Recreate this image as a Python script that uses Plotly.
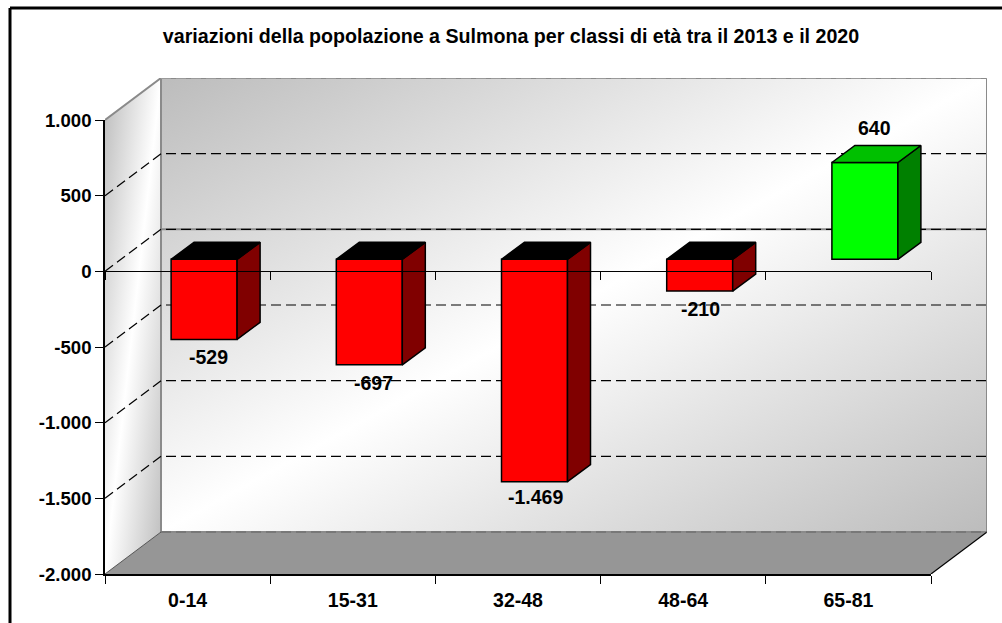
import base64
import plotly.graph_objects as go

# data
categories = ["0-14", "15-31", "32-48", "48-64", "65-81"]
values = [-529, -697, -1469, -210, 640]
value_labels = ["-529", "-697", "-1.469", "-210", "640"]
y_ticks = [1000, 500, 0, -500, -1000, -1500, -2000]
y_tick_labels = ["1.000", "500", "0", "-500", "-1.000", "-1.500", "-2.000"]

# style / geometry
W, H = 1002, 623
L, R, T, B = 105, 931, 120, 574
YMIN, YMAX = -2000, 1000
NCAT = len(categories)
PX_X = (R - L) / NCAT
PX_Y = (B - T) / (YMAX - YMIN)
DX = 56.0 / PX_X        # depth of the chart box
DY = 42.0 / PX_Y
BAR_SHIFT = 16.5 / PX_X  # front face of bars, inside the box
BAR_WIDTH = 66.0 / PX_X
BAR_LIFT = 12.0 / PX_Y
BAR_DX = 23.0 / PX_X     # depth of bars
BAR_DY = 17.0 / PX_Y
FONT = "Liberation Sans, Arial, sans-serif"
FS = 19.5
RED, RED_SIDE, RED_TOP = "#ff0000", "#800000", "#000000"
GRN, GRN_SIDE, GRN_TOP = "#00ff00", "#008000", "#00c000"
LABEL_SHIFT = [(4, 18), (4, 18), (1, 15), (1, 18), (10, -34)]
R_BOX = R + DX * PX_X
T_BOX = T - DY * PX_Y
FX = (R - L) / (R_BOX - L)   # fraction of the box used by the front axes
FY = (B - T) / (B - T_BOX)

# gradient walls, drawn as an svg image behind the axes
box_w = (NCAT + DX) * PX_X
box_h = (YMAX - YMIN + DY) * PX_Y
dxp, dyp = DX * PX_X, DY * PX_Y
h_front = (YMAX - YMIN) * PX_Y
svg = f'''<svg xmlns="http://www.w3.org/2000/svg" viewBox="0 0 {box_w} {box_h}" width="{box_w}" height="{box_h}">
<defs><linearGradient id="g" x1="0" y1="0" x2="1" y2="1">
<stop offset="0" stop-color="#bcbcbc"/><stop offset="0.5" stop-color="#ffffff"/><stop offset="1" stop-color="#bcbcbc"/>
</linearGradient></defs>
<polygon points="0,{dyp} {dxp},0 {dxp},{h_front} 0,{box_h}" fill="url(#g)"/>
<rect x="{dxp}" y="0" width="{box_w - dxp}" height="{h_front}" fill="url(#g)"/>
</svg>'''
src = "data:image/svg+xml;base64," + base64.b64encode(svg.encode()).decode()

fig = go.Figure()


def poly(xs, ys, fill=None, line="black", width=1.5, dash=None, sub=("x", "y")):
    fig.add_trace(go.Scatter(
        x=xs, y=ys, mode="lines", xaxis=sub[0], yaxis=sub[1], cliponaxis=False,
        fill="toself" if fill else None, fillcolor=fill, showlegend=False, hoverinfo="skip",
        line=dict(color=line, width=width, dash=dash),
    ))


# floor
poly([0, NCAT, NCAT + DX, DX, 0], [YMIN, YMIN, YMIN + DY, YMIN + DY, YMIN], fill="#969696", line="rgba(0,0,0,0)", width=0)
# solid wall edges
poly([0, DX, NCAT + DX, NCAT + DX, DX, DX], [YMAX, YMAX + DY, YMAX + DY, YMIN + DY, YMIN + DY, YMAX + DY], line="#8a8a8a", width=2)
poly([DX, NCAT + DX], [DY, DY], line="#8a8a8a", width=2)
poly([0, DX], [YMIN, YMIN + DY], line="#555555", width=1)
poly([NCAT, NCAT + DX], [YMIN, YMIN + DY], line="black", width=1.2)
# dashed gridlines
for v in y_ticks:
    if v == YMIN:
        poly([DX, NCAT + DX], [v + DY, v + DY], line="#666666", width=1, dash="10px,5px")
    elif v == YMAX:
        poly([DX, NCAT + DX], [v + DY, v + DY], line="#aaaaaa", width=1, dash="10px,5px")
    else:
        poly([0, DX, NCAT + DX], [v, v + DY, v + DY], line="#000000", width=1.2, dash="10px,5px")

BARS = ("x2", "y2")
# bars: front faces
centers = [i + 0.5 + BAR_SHIFT for i in range(NCAT)]
fig.add_trace(go.Bar(
    x=centers, y=values, base=[BAR_LIFT] * NCAT, width=BAR_WIDTH, xaxis="x2", yaxis="y2",
    marker=dict(color=[RED if v < 0 else GRN for v in values], line=dict(color="black", width=1.5)),
    cliponaxis=False, showlegend=False, hoverinfo="skip",
))
# bars: side and top faces
for c, v in zip(centers, values):
    x0, x1 = c - BAR_WIDTH / 2, c + BAR_WIDTH / 2
    top = BAR_LIFT + max(v, 0)
    bot = BAR_LIFT + min(v, 0)
    side, lid = (RED_SIDE, RED_TOP) if v < 0 else (GRN_SIDE, GRN_TOP)
    poly([x1, x1 + BAR_DX, x1 + BAR_DX, x1, x1], [top, top + BAR_DY, bot + BAR_DY, bot, top], fill=side, sub=BARS)
    poly([x0, x1, x1 + BAR_DX, x0 + BAR_DX, x0], [top, top, top + BAR_DY, top + BAR_DY, top], fill=lid, sub=BARS)
# zero line with its ticks sits over the bars
poly([0, NCAT], [0, 0], line="rgba(0,0,0,0)", width=0, sub=("x3", "y2"))

annotations = [
    dict(x=c, y=BAR_LIFT + v, xref="x2", yref="y2", text=f"<b>{t}</b>", showarrow=False,
         xshift=sx, yshift=-sy, font=dict(family=FONT, size=FS, color="black"))
    for c, v, t, (sx, sy) in zip(centers, values, value_labels, LABEL_SHIFT)
]

hidden = dict(visible=False, showgrid=False, zeroline=False)
fig.update_layout(
    width=W, height=H, margin=dict(l=L, r=W - R_BOX, t=T_BOX, b=H - B, autoexpand=False),
    paper_bgcolor="white", plot_bgcolor="rgba(0,0,0,0)", autosize=False, barmode="overlay",
    font=dict(family=FONT, size=FS, color="black"),
    title=dict(text="<b>variazioni della popolazione a Sulmona per classi di età tra il 2013 e il 2020</b>",
               x=511 / W, y=1 - 36 / H, xanchor="center", yanchor="middle",
               font=dict(family=FONT, size=19.65, color="black")),
    xaxis=dict(range=[0, NCAT + DX], domain=[0, 1], **hidden),
    yaxis=dict(range=[YMIN, YMAX + DY], domain=[0, 1], **hidden),
    xaxis2=dict(range=[0, NCAT], domain=[0, FX], anchor="y2", tickmode="array",
                tickvals=[i + 0.5 for i in range(NCAT)], ticktext=categories,
                ticks="", ticklabelstandoff=8, showgrid=False, zeroline=False, showline=True, linecolor="black", linewidth=1.5,
                tickfont=dict(family=FONT, size=FS, weight="bold"),
                minor=dict(tickmode="array", tickvals=list(range(NCAT + 1)), ticks="outside", ticklen=8,
                           tickcolor="black", tickwidth=1.2, showgrid=False)),
    xaxis3=dict(range=[0, NCAT], overlaying="x2", anchor="free", position=FY * (0 - YMIN) / (YMAX - YMIN), side="bottom",
                tickmode="array", tickvals=list(range(NCAT + 1)), ticks="outside", ticklen=8, tickcolor="black",
                tickwidth=1.2, showticklabels=False, showgrid=False, zeroline=False, showline=True,
                linecolor="black", linewidth=1.2),
    yaxis2=dict(range=[YMIN, YMAX], domain=[0, FY], anchor="x2", tickmode="array", tickvals=y_ticks, ticktext=y_tick_labels,
                ticks="outside", ticklen=8, tickcolor="black", tickwidth=1.2, showgrid=False, zeroline=False, showline=True,
                linecolor="black", linewidth=1.5, ticklabelstandoff=0,
                tickfont=dict(family=FONT, size=18.6, weight="bold")),
    images=[dict(source=src, xref="paper", yref="paper", x=0, y=1, sizex=1, sizey=1,
                 xanchor="left", yanchor="top", sizing="stretch", layer="below")],
    annotations=annotations,
    shapes=[
        dict(type="line", xref="paper", yref="paper", x0=(10 - L) / (R_BOX - L), x1=(W + 5 - L) / (R_BOX - L),
             y0=(B - 8) / (B - T_BOX), y1=(B - 8) / (B - T_BOX), line=dict(color="black", width=3)),
        dict(type="line", xref="paper", yref="paper", x0=(10 - L) / (R_BOX - L), x1=(10 - L) / (R_BOX - L),
             y0=(B - 8) / (B - T_BOX), y1=(B - H - 5) / (B - T_BOX), line=dict(color="black", width=3)),
    ],
)
fig.write_html("out.html", post_script="document.body.style.margin='0';document.body.style.overflow='hidden';",
               config={"displayModeBar": False})
